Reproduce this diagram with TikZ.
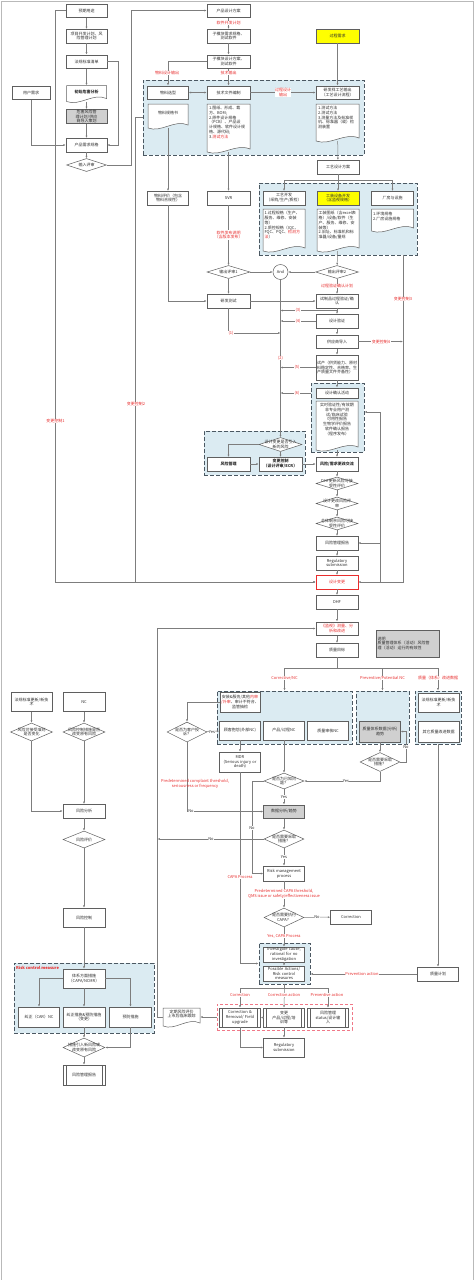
\documentclass[tikz,border=0pt]{standalone}
\usepackage{fontspec}
\setmainfont{Noto Sans CJK SC}
\XeTeXlinebreaklocale "zh"
\XeTeXlinebreakskip = 0pt
\usetikzlibrary{calc,shapes.geometric,arrows.meta}
\definecolor{ln}{RGB}{125,125,125}
\definecolor{bx}{RGB}{95,95,95}
\definecolor{txt}{RGB}{45,45,45}
\definecolor{bluefill}{RGB}{219,235,242}
\definecolor{dashc}{RGB}{75,88,98}
\definecolor{redtxt}{RGB}{232,45,45}
\definecolor{redline}{RGB}{240,120,135}
\definecolor{grayfill}{RGB}{208,208,208}
\definecolor{yel}{RGB}{255,255,0}
\def\smallfnt{\fontsize{4}{4.8}\selectfont}
\tikzset{
  blk/.style={draw=bx, fill=white, line width=0.5pt, minimum width=42pt, minimum height=13.5pt,
    text width=40pt, align=center, inner sep=0.5pt, font=\smallfnt, text=txt},
  pproc/.style={blk, path picture={\draw[bx, line width=0.4pt]
    ([xshift=3pt]path picture bounding box.north west) -- ([xshift=3pt]path picture bounding box.south west)
    ([xshift=-3pt]path picture bounding box.north east) -- ([xshift=-3pt]path picture bounding box.south east);}},
  dia/.style={diamond, draw=bx, fill=white, line width=0.5pt, minimum width=42pt, minimum height=14pt, inner sep=0pt},
  dtxt/.style={font=\smallfnt, align=center, text=txt, inner sep=0pt},
  doctxt/.style={font=\smallfnt, text width=39pt, align=left, text=txt, inner sep=0pt, anchor=north},
  reg/.style={draw=dashc, fill=bluefill, dash pattern=on 4pt off 2pt, line width=0.9pt, inner sep=0pt},
  redreg/.style={draw=redline, dash pattern=on 3pt off 2pt, line width=0.6pt, inner sep=0pt},
  con/.style={draw=ln, line width=0.5pt, -{Latex[length=2.4pt,width=2pt]}},
  lnk/.style={draw=ln, line width=0.5pt},
  lbl/.style={font=\smallfnt, text=redtxt, fill=white, inner sep=0.4pt, align=center},
  yn/.style={font=\smallfnt, text=txt, fill=white, inner sep=0.4pt},
  frame/.style={draw=gray!55, line width=0.8pt}
}
\newcommand\docshape[5]{% name, centre x, top y, width, height
  \filldraw[draw=bx, fill=white, line width=0.5pt] ({#2-#4/2},{#3+#5}) -- ({#2-#4/2},#3) -- ({#2+#4/2},#3)
    -- ({#2+#4/2},{#3+#5-3}) .. controls ({#2+#4/6},{#3+#5-9}) and ({#2-#4/6},{#3+#5+5}) .. ({#2-#4/2},{#3+#5}) -- cycle;
  \node[inner sep=0pt, minimum width=#4pt, minimum height=#5pt] (#1) at (#2,{#3+#5/2}) {};
}
\newcommand\dianode[4][]{% name, position, text
  \node[dia,#1] (#2) at (#3) {};
  \node[dtxt] (#2t) at (#2) {#4};
}
\begin{document}
\begin{tikzpicture}[x=1pt,y=-1pt]
%%%%% START %%%%%
\useasboundingbox (0,0) rectangle (474,1280);
\draw[frame] (1,1280) -- (1,1) -- (473,1) -- (473,1280);

% dashed groups
\node[reg, minimum width=221pt, minimum height=75pt] (r1) at (253.5,117.5) {};
\node[reg, minimum width=158pt, minimum height=72pt] (r2) at (338,219) {};
\node[reg, minimum width=53pt, minimum height=69pt] (r3) at (337.5,417.5) {};
\node[reg, minimum width=101pt, minimum height=44pt] (r4) at (254.5,453) {};
\node[reg, minimum width=135pt, minimum height=53pt] (r5) at (284.5,717.5) {};
\node[reg, minimum width=53pt, minimum height=53pt] (r6) at (382.5,717.5) {};
\node[reg, minimum width=46pt, minimum height=53pt] (r7) at (438,717.5) {};
\node[reg, minimum width=51pt, minimum height=41pt] (r8) at (284.5,963.5) {};
\node[redreg, minimum width=135pt, minimum height=26pt] (r9) at (284.5,1017) {};
\node[reg, minimum width=140pt, minimum height=70pt] (r10) at (84,998) {};
\node[font=\smallfnt\bfseries, text=redtxt, anchor=west, inner sep=0pt] (r10t) at (16,968) {Risk control measure};

% product requirement column
\node[blk, minimum width=40pt] (yqyt) at (86.5,10.5) {预期用途};
\node[blk, minimum width=40pt] (xmjh) at (86.5,36) {项目开发计划、风\\险管理计划};
\node[blk, minimum width=40pt] (fgbz) at (86.5,61.5) {法规标准清单};
\docshape{cswh}{86.5}{85.5}{40}{16}
\node[dtxt] (cswht) at (86.5,91.5) {\bfseries 初始危害分析};
\node[blk, fill=grayfill, minimum width=40pt] (fxch) at (86.5,116.5) {危害风险管理计划/供应\\商导入策划};
\node[blk, minimum width=40pt] (cpxq) at (86.5,145) {产品需求规格};
\dianode[minimum width=40pt, minimum height=13pt]{srps}{86.5,165}{输入评审};
\node[blk, minimum width=38pt, text width=36pt] (yhxq) at (31,92.5) {用户需求};

% design column
\node[blk, minimum width=43pt] (cpsj) at (228.5,10.5) {产品设计方案};
\node[blk, minimum width=43pt] (zmxq) at (228.5,36) {子模块需求规格、\\测试软件};
\node[blk, minimum width=43pt] (zmsj) at (228.5,61.5) {子模块设计方案、\\测试软件};
\node[blk, minimum width=40pt] (wlxx) at (168,92.5) {物料选型};
\node[blk, minimum width=43pt] (jswj) at (228.5,92.5) {技术文件编制};
\node[blk, fill=yel, minimum width=43pt] (gcxq) at (337.5,36) {过程需求};
\node[blk, minimum width=43pt] (yfgy) at (337.5,92.5) {研发样工艺输出\\（工艺设计流程）};
\docshape{wlgg}{168}{104}{40}{24}
\node[dtxt] (wlggt) at (168,112.5) {物料规格书};
\docshape{jsdoc}{228.5}{104}{43}{48}
\node[doctxt] (jsdoct) at (228.5,106) {1.图纸、形成、裁方、BOM;\\2.原件设计规格（PCB）、产品设计规格、软件设计规格、源代码;\\3.\textcolor{redtxt}{测试方法}};
\docshape{gydoc}{337.5}{104}{43}{37}
\node[doctxt] (gydoct) at (337.5,106) {1.测试方法\\2.测试方法\\3.测量方法及标准样机、标准器（或）检测装置};
\node[blk, minimum width=42pt] (gysj) at (338,167) {工艺设计方案};
\node[blk, minimum width=42pt] (gykf) at (284,198) {工艺开发\\（采购/生产/质检）};
\node[blk, fill=yel, minimum width=42pt] (gzsb) at (338,198) {工装设备开发\\（含监视规格）};
\node[blk, minimum width=42pt] (cfss) at (392.5,198) {厂房与设施};
\docshape{doc1}{284}{209}{42}{42}
\node[doctxt] (doc1t) at (284,211) {1.过程规格（生产、服务、维修、安装等）\\2.质控规格（IQC、FQC、PQC、\textcolor{redtxt}{检测方法}）};
\docshape{doc2}{338}{209}{42}{42}
\node[doctxt] (doc2t) at (338,211) {工装图纸（含excel表格）/设备/软件（生产、服务、维修、安装等）\\2.旧址、标准机和标准器/设备/量规};
\docshape{doc3}{392.5}{209}{42}{22}
\node[doctxt] (doc3t) at (392.5,212) {1.环境规格\\2.厂房设施规格};
\node[blk, minimum width=40pt] (wlpj) at (168,198) {物料评价（包含\\物料合规性）};
\node[blk, minimum width=43pt] (svr) at (228.5,198) {SVR};
\dianode[minimum width=43pt, minimum height=13pt]{scps1}{228.5,272}{输出评审1};
\node[circle, draw=bx, fill=white, line width=0.5pt, minimum size=15pt, inner sep=0pt, font=\smallfnt, text=txt] (andc) at (280.5,272) {And};
\dianode[minimum width=43pt, minimum height=13pt]{scps2}{337,272}{输出评审2};
\node[blk, minimum width=43pt] (yfcs) at (228.5,301) {研发测试};
\node[blk] (szp) at (337,301) {试制品过程验证/确\\认};
\node[blk] (sjyz) at (337,321) {设计验证};
\node[blk] (gysdr) at (337,341.5) {供应商导入};
\node[blk, minimum height=25pt, align=left] (sc) at (337,367.5) {试产（供货能力、原材料稳定性、合格率、生产质量文件齐备性）};
\node[blk, minimum height=10.5pt] (sjqr) at (337,393) {设计确认活动};
\docshape{qrdoc}{337}{401}{42}{49}
\node[doctxt, align=center] (qrdoct) at (337,403) {实时验证性/有效期\\非专业用户测试/临床试验\\可用性报告\\生物学评价报告\\软件确认报告（程序发布）};

% change control group
\dianode[minimum width=43pt, minimum height=14pt]{bgd}{280.5,444.5}{设计变更是否引入\\新的风险};
\node[blk, minimum width=43pt] (fxgl) at (228.5,464) {\bfseries 风险管理};
\node[blk, minimum width=43pt] (bgkz) at (280.5,464) {\bfseries 变更控制\\（设计评审/ECR）};
\node[blk] (fxjl) at (337,464) {\bfseries 风险/需求更改交流};
\dianode[minimum width=42pt, minimum height=13pt]{d1}{337,483.5}{DHF更新风险可接\\受性评价};
\dianode[minimum width=42pt, minimum height=13pt]{d2}{337,503.5}{设计更改风险评\\审};
\dianode[minimum width=42pt, minimum height=13pt]{d3}{337,523.5}{总体剩余风险可接\\受性评价};
\node[blk] (fxbg) at (337,543) {风险管理报告};
\node[blk] (reg1) at (337,563) {Regulatory\\submission};
\node[blk, draw=redtxt, text=redtxt] (sjbg) at (337,582) {设计变更};
\node[blk] (dhf) at (337,602) {DHF};
\node[blk, text=redtxt] (jsfx) at (337,628.5) {《监视》测量、分\\析和改进};
\node[blk] (zlmb) at (337,650) {质量目标};
\node[blk, fill=grayfill, minimum width=63pt, minimum height=27pt, text width=60pt, align=left] (sm) at (407.5,643.5) {说明\\质量管理体系（活动）风险管\\理（活动）运行的有效性};

% quality data
\node[blk, minimum width=40pt, minimum height=20pt, text width=39pt] (az) at (240,702) {安装\&服务/其他\textcolor{redtxt}{内审}\\\textcolor{redtxt}{/外审}、审计不符合、\\监管抽检};
\node[blk, minimum width=40pt, minimum height=19pt] (gkbm) at (240,730.5) {顾客抱怨(外部NC)};
\node[blk, minimum width=40pt, minimum height=19pt] (cpgc) at (284,730.5) {产品/过程NC};
\node[blk, minimum width=40pt, minimum height=19pt] (zlsh) at (328,730.5) {质量审核NC};
\node[blk, fill=grayfill, minimum width=40pt, minimum height=21pt] (zltx) at (380,731.5) {质量体系数据(分析)\\趋势};
\node[blk, minimum width=39pt, minimum height=19pt] (fgxj2) at (438.5,702.5) {法规标准更新/新技\\术};
\node[blk, minimum width=39pt, minimum height=21pt] (qtzl) at (438.5,731.5) {其它质量改进数据};
\dianode[minimum width=40pt, minimum height=20pt]{khts}{187,732}{是否为客户投\\诉？};
\node[blk, minimum width=40pt, minimum height=20pt] (mdr) at (240,762) {MDR\\(Serious injury or\\death)};
\dianode[minimum width=40pt, minimum height=16pt]{yzwt}{284,781}{是否为已知问\\题？};
\dianode[minimum width=40pt, minimum height=19pt]{qs2}{380,762}{是否需要采取\\措施？};
\node[blk, fill=grayfill, minimum width=40pt] (sjfx) at (284,811.5) {数据分析/趋势};
\dianode[minimum width=40pt, minimum height=18pt]{cqcs}{284,839}{是否需要采取\\措施？};
\node[blk, minimum width=40pt, minimum height=15pt] (rmp) at (284,873.5) {Risk management\\process};
\dianode[minimum width=40pt, minimum height=19pt]{capa}{284,917.5}{是否需要执行\\CAPA？};
\node[blk, minimum width=40pt, minimum height=14pt] (corr) at (351,917) {Correction};
\node[blk, minimum width=40pt, minimum height=15pt] (inv) at (284,954.5) {Investigate cause,\\rational for no\\investigation};
\node[blk, minimum width=40pt, minimum height=15pt] (pa) at (284,973.5) {Possible Actions/\\Risk control\\measures};
\node[blk, minimum width=40pt, minimum height=14pt] (zljh) at (438,974) {质量计划};
\node[pproc, minimum width=40pt, minimum height=19pt] (crbox) at (240,1017.5) {Correction \&\\Removal/ Field\\upgrade};
\node[pproc, minimum width=40pt, minimum height=19pt] (bgbox) at (284,1017.5) {变更\\产品/过程/培\\训等};
\node[pproc, minimum width=40pt, minimum height=19pt] (fxbox) at (328,1017.5) {风险管理\\status/设计输\\入};
\docshape{dqfx}{181.5}{1008}{37}{18}
\node[dtxt] (dqfxt) at (181.5,1014) {定期风险评价\\上市后临床跟踪};
\node[blk, minimum width=40pt, minimum height=19pt] (reg2) at (284,1047.5) {Regulatory\\submission};

% risk column
\node[blk, minimum width=41pt, minimum height=19pt] (fgxjs) at (31.5,702) {法规标准更新/新技\\术};
\node[blk, minimum width=42pt, minimum height=19pt] (nc) at (84,702) {NC};
\dianode[minimum width=42pt, minimum height=18pt]{dl}{31.5,732}{风险可接受准则\\是否变化};
\dianode[minimum width=42pt, minimum height=18pt]{dr}{84,732}{风险控制措施是否\\改变原有风险};
\node[blk] (fxfx) at (84,811) {风险分析};
\dianode[minimum width=42pt, minimum height=17pt]{fxpj}{84,839.5}{风险评价};
\node[blk, minimum height=19pt] (fxkz) at (84,917.5) {风险控制};
\node[blk, minimum height=19pt] (txcs) at (84,978.5) {体系方面措施\\（CAPA/NCMR）};
\node[blk, minimum width=40pt, minimum height=20pt] (jz) at (39,1017) {纠正（CAR）NC};
\node[blk, minimum height=20pt] (jzyf) at (84,1017) {纠正措施\&预防措施\\（变更）};
\node[blk, minimum height=20pt] (yfcs2) at (130.5,1017) {预防措施};
\dianode[minimum width=42pt, minimum height=19pt]{dcs}{84,1047.5}{措施引入新风险或\\改变原有风险};
\node[pproc, minimum height=20pt] (fxbgb) at (84,1075) {风险管理报告};

% helper points
\coordinate (gyfork) at (338,180);
\coordinate (k3) at (403,255);
\coordinate (k5) at (380,582);
\coordinate (k5top) at (380,412);
\coordinate (k7) at (157.5,628.5);
\coordinate (c1) at (280.5,333);
\coordinate (c3) at (337,310.5);
\coordinate (zfork) at (337,668);
\coordinate (pfork) at (284.5,988);

% connectors, top part
\draw[con] (yqyt) -- (xmjh);
\draw[con] (xmjh) -- (fgbz);
\draw[con] (fgbz) -- (cswh);
\draw[con] (cswh) -- (fxch);
\draw[con] (fxch) -- (cpxq);
\draw[con] (cpxq) -- (srps);
\draw[con] (fgbz.east) -- ++(10.5,0) |- (cpxq.east);
\draw[con] (yhxq.south) |- (cpxq.west);
\draw[con] (srps.east) -- ++(24,0) |- (cpsj.west);
\draw[con] (yqyt.west) -- ++(-11,0) |- (sjbg.west);
\draw[con] (r1.west) -- ++(-7,0) |- (sjbg.west);
\draw[con] (cpsj) -- (zmxq);
\draw[con] (zmxq) -- (zmsj);
\draw[con] (zmsj) -- (jswj);
\draw[con] (zmsj.west) -| (wlxx.north);
\draw[con, {Latex[length=2.4pt,width=2pt]}-{Latex[length=2.4pt,width=2pt]}] (wlxx) -- (jswj);
\draw[con] (jswj) -- (yfgy);
\draw[con] (gcxq) -- (yfgy);
\draw[con] (wlgg) -- (wlpj);
\draw[con] (jsdoc) -- (svr);
\draw[con] (gydoc) -- (gysj);
\draw[lnk] (gysj) -- (gyfork);
\draw[con] (gyfork) -| (gykf.north);
\draw[con] (gyfork) -| (cfss.north);
\draw[con] (gyfork) -- (gzsb.north);
\draw[con] (doc2) -- (scps2);
\draw[con] (svr) -- (scps1);
\draw[con] (scps1) -- (andc);
\draw[con] (scps2) -- (andc);
\draw[con] (scps1) -- (yfcs);
\draw[con] (wlpj.south) |- (yfcs.west);
\draw[con] (yfcs) -- (szp);
\draw[con] (scps2) -- (szp);
\draw[con] (szp) -- (sjyz);
\draw[con] (sjyz) -- (gysdr);
\draw[con] (gysdr) -- (sc);
\draw[con] (sc) -- (sjqr);
\draw[con] (c3) -- (c3 -| andc);
\draw[con] (sjyz.west) -- (sjyz.west -| andc);
\draw[con] (yfcs.south) |- (c1);
\draw[con] (sc.west) -- (sc.west -| andc);
\draw[con] (sjqr -| r3.west) -- (sjqr -| andc);
\draw[con] (andc) -- (bgd);
\draw[con] (gysdr.east) -- (gysdr.east -| k3);
\draw[con] (k3) |- (sjbg.east);
\draw[con] (k5) -- (k5top) -- (k5top -| r3.east);
\draw[con] (k5 |- fxbg) -- (fxbg.east);
\draw[con] (bgd.west) -| (fxgl.north);
\draw[con] (bgd) -- (bgkz);
\draw[con] (fxgl) -- (bgkz);
\draw[con] (bgkz) -- (fxjl);
\draw[con] (qrdoc) -- (fxjl);
\draw[con] (fxjl) -- (d1);
\draw[con] (d1) -- (d2);
\draw[con] (d2) -- (d3);
\draw[con] (d3) -- (fxbg);
\draw[con] (fxbg) -- (reg1);
\draw[con] (reg1) -- (sjbg);
\draw[con] (sjbg) -- (dhf);
\draw[con] (dhf) -- (jsfx);
\draw[con] (jsfx) -- (zlmb);
\draw[con] (dqfx.west) -| (k7) -- (jsfx.west);

% connectors, quality part
\draw[lnk] (zlmb) -- (zfork);
\draw[con] (zfork) -| (r5.north);
\draw[con] (zfork) -| (r7.north);
\draw[con] (zfork -| r6.north) -- (r6.north);
\draw[con] (az.west) -| (khts.north);
\draw[con] (khts) -- (gkbm);
\draw[con] (gkbm) -- (mdr);
\draw[con] (khts.south) |- (sjfx.west);
\draw[con] (cpgc) -- (yzwt);
\draw[con] (yzwt) -- (sjfx);
\draw[con] (yzwt.west) -- ++(-12,0) |- (rmp.west);
\draw[con] (zltx) -- (qs2);
\draw[con] (qs2.east) -- ++(6,0) |- (zltx.east);
\draw[con] (qs2.south) |- (yzwt.east);
\draw[con] (sjfx) -- (cqcs);
\draw[con] (cqcs.west) -- (cqcs.west -| k7);
\draw[con] (cqcs) -- (rmp);
\draw[con] (mdr.south) |- (r8.west);
\draw[con] (rmp) -- (capa);
\draw[con] (capa) -- (corr);
\draw[con] (capa) -- (inv);
\draw[con] (inv) -- (pa);
\draw[con] (r7.south) -- (zljh);
\draw[con] (zljh.west) -- (zljh.west -| r8.east);
\draw[lnk] (r8.south) -- (pfork);
\draw[con] (pfork) -| (crbox.north);
\draw[con] (pfork) -| (fxbox.north);
\draw[con] (pfork) -- (bgbox.north);
\draw[con] (bgbox) -- (crbox);
\draw[con] (r9.west) -- (dqfx.east);
\draw[con] (bgbox) -- (reg2);
\draw[con] (crbox.south) |- (reg2.west);

% connectors, risk part
\draw[con] (fgxjs) -- (dl);
\draw[con] (nc) -- (dr);
\draw[con] (dl.south) |- (fxfx.west);
\draw[con] (dr) -- (fxfx);
\draw[con] (fxfx) -- (fxpj);
\draw[con] (fxpj) -- (fxkz);
\draw[con] (fxkz) -- (txcs);
\draw[con] (txcs.west) -| (jz.north);
\draw[con] (txcs.east) -| (yfcs2.north);
\draw[con] (txcs) -- (jzyf);
\draw[con] (jzyf) -- (dcs);
\draw[con] (yfcs2.south) |- (dcs.east);
\draw[con] (dcs) -- (fxbgb);

% labels
\node[lbl] (l01) at (228.5,23) {软件开发计划};
\node[lbl] (l02) at (167,73) {物料设计输出};
\node[lbl] (l03) at (228.5,73) {技术输出};
\node[lbl] (l04) at (283,92.5) {过程设计\\输出};
\node[lbl] (l05) at (228.5,235) {软件发布说明\\（含版本发布）};
\node[lbl] (l06) at (337,286) {过程验证确认计划};
\node[lbl] (l07) at (298,310.5) {(3)};
\node[lbl] (l08) at (298,321) {(4)};
\node[lbl] (l09) at (231,333) {(1)};
\node[lbl] (l10) at (280.5,358) {(2)};
\node[lbl] (l11) at (297,367.5) {(5)};
\node[lbl] (l12) at (297,393) {(6)};
\node[lbl] (l13) at (403,299) {变更控制3};
\node[lbl] (l14) at (381,341.5) {变更控制4};
\node[lbl] (l15) at (55.5,421) {变更控制1};
\node[lbl] (l16) at (136,404) {变更控制2};
\node[lbl] (l17) at (284.5,678) {Corrective/NC};
\node[lbl] (l18) at (382.5,678) {Preventive/Potential NC};
\node[lbl] (l19) at (438,678) {质量（体系）改进数据};
\node[yn] (y1) at (212,732) {Yes};
\node[yn] (n1) at (191,811.5) {No};
\node[lbl, fill=none] (l20) at (195,783.5) {Predetermined complaint threshold,\\seriousness or frequency};
\node[yn] (y2) at (284,797) {Yes};
\node[yn] (n2) at (406,747) {No};
\node[yn] (y3) at (346,781) {Yes};
\node[yn] (n3) at (252,828) {No};
\node[yn] (n4) at (211,839) {No};
\node[yn] (y4) at (284,857) {Yes};
\node[lbl] (l21) at (240,877) {CAPA Process};
\node[lbl] (l22) at (284,894) {Predetermined CAPA threshold,\\QMS issue or safety/effectiveness issue};
\node[yn] (n5) at (317,917) {No};
\node[lbl] (l23) at (284,936) {Yes, CAPA Process};
\node[lbl] (l24) at (362,974) {Prevention action};
\node[lbl] (l25) at (240,995) {Correction};
\node[lbl] (l26) at (284,995) {Correction action};
\node[lbl] (l27) at (327,995) {Preventive action};
%%%%% END %%%%%
\end{tikzpicture}
\end{document}
